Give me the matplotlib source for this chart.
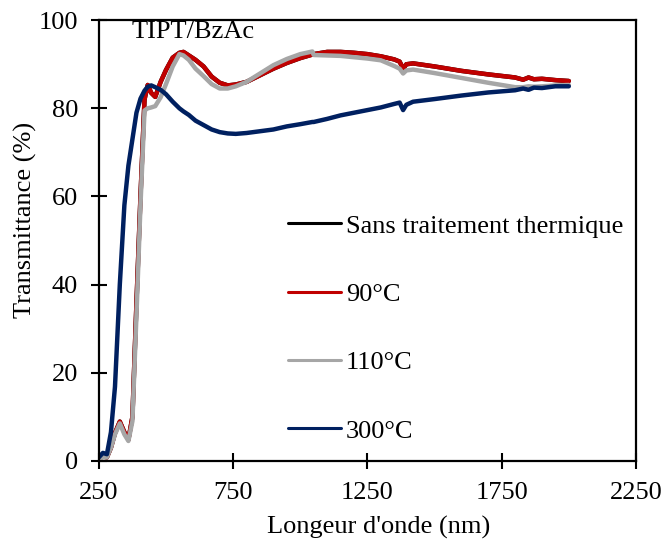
import matplotlib
matplotlib.use("Agg")
import matplotlib.pyplot as plt

# wavelength grid (nm)
wl = [250, 265, 280, 295, 310, 328, 345, 360, 375, 390, 405, 420, 432, 445,
      460, 480, 500, 525, 550, 565, 585, 610, 640, 670, 700, 730, 760, 800,
      850, 900, 950, 1000, 1045, 1050, 1100, 1150, 1200, 1250, 1300, 1350,
      1370, 1383, 1395, 1420, 1500, 1600, 1700, 1800, 1830, 1850, 1870, 1900,
      1950, 2000]

# transmittance (%) for each sample
t_sans = [0.5, 1.0, 0.8, 3.0, 6.3, 8.9, 6.5, 4.8, 10.0, 35.8, 60.0, 82.0, 85.3, 83.5,
          82.6, 86.0, 88.7, 91.5, 92.6, 92.8, 92.0, 91.0, 89.5, 87.2, 85.8, 85.2, 85.4, 86.0,
          87.5, 89.0, 90.3, 91.4, 92.2, 92.3, 92.8, 92.8, 92.6, 92.3, 91.8, 91.1,
          90.6, 89.0, 90.0, 90.2, 89.5, 88.5, 87.7, 87.0, 86.5, 87.0, 86.6, 86.7,
          86.4, 86.2]
t_90 = [0.5, 1.0, 0.8, 3.0, 6.3, 8.9, 6.5, 4.8, 10.0, 35.8, 60.0, 82.0, 85.3, 83.5,
        82.6, 86.0, 88.7, 91.5, 92.6, 92.8, 92.0, 91.0, 89.5, 87.2, 85.8, 85.2, 85.4, 86.0,
        87.5, 89.0, 90.3, 91.4, 92.2, 92.3, 92.8, 92.8, 92.6, 92.3, 91.8, 91.1,
        90.6, 89.0, 90.0, 90.2, 89.5, 88.5, 87.7, 87.0, 86.5, 87.0, 86.6, 86.7,
        86.4, 86.2]
t_110 = [0.3, 0.8, 0.8, 3.0, 6.0, 8.5, 6.0, 4.5, 9.0, 33.0, 58.0, 79.5, 80.0, 80.2,
         80.5, 82.5, 85.5, 89.5, 92.3, 92.0, 91.0, 89.0, 87.3, 85.5, 84.5, 84.5, 85.0, 86.0,
         87.9, 89.8, 91.2, 92.3, 92.9, 92.1, 92.0, 91.9, 91.6, 91.3, 90.9, 89.6,
         89.0, 87.9, 88.6, 88.8, 88.0, 86.9, 85.8, 84.8, 84.8, 85.0, 84.9, 85.0,
         85.2, 85.3]
t_300 = [0.8, 1.8, 1.5, 6.5, 16.8, 40.0, 58.0, 67.0, 73.0, 79.0, 82.2, 84.0, 84.9, 85.2,
         84.8, 84.2, 83.2, 81.5, 80.0, 79.3, 78.5, 77.2, 76.2, 75.2, 74.6, 74.3, 74.2, 74.4,
         74.8, 75.2, 75.9, 76.4, 76.9, 76.9, 77.6, 78.4, 79.0, 79.6, 80.2, 81.0,
         81.3, 79.6, 80.8, 81.5, 82.1, 82.9, 83.6, 84.1, 84.5, 84.2, 84.7, 84.6,
         85.0, 85.0]

labels = ["Sans traitement thermique", "90°C", "110°C", "300°C"]
colors = ["black", "#C00000", "#A6A6A6", "#002060"]

plt.rcParams['font.family'] = ['Liberation Serif', 'DejaVu Serif']
plt.rcParams['font.size'] = 19

fig = plt.figure(figsize=(6.68, 5.46), dpi=100)
ax = fig.add_axes([0.148, 0.156, 0.804, 0.807])

for t, lab, c in zip([t_sans, t_90, t_110, t_300], labels, colors):
    ax.plot(wl, t, color=c, lw=3.2, label=lab, solid_capstyle='round',
            solid_joinstyle='round')

ax.set_xlim(250, 2250)
ax.set_ylim(0, 100)
ax.set_xticks([250, 750, 1250, 1750, 2250])
ax.set_yticks([0, 20, 40, 60, 80, 100])
ax.tick_params(direction='inout', length=12, width=1.5, pad=9)
for s in ax.spines.values():
    s.set_linewidth(1.6)

ax.set_xlabel("Longeur d'onde (nm)")
ax.set_ylabel("Transmittance (%)")
ax.xaxis.set_label_coords(0.521, -0.125)
ax.yaxis.set_label_coords(-0.115, 0.546)

ax.text(0.061, 0.959, "TIPT/BzAc", transform=ax.transAxes, va='baseline', ha='left')

leg = ax.legend(loc='upper left', bbox_to_anchor=(0.352, 0.560), frameon=False,
                borderpad=0, borderaxespad=0, handlelength=2.0,
                handletextpad=0.2, labelspacing=1.70)
for h in leg.get_lines():
    h.set_linewidth(2.2)

fig.savefig("out.png", dpi=100)
